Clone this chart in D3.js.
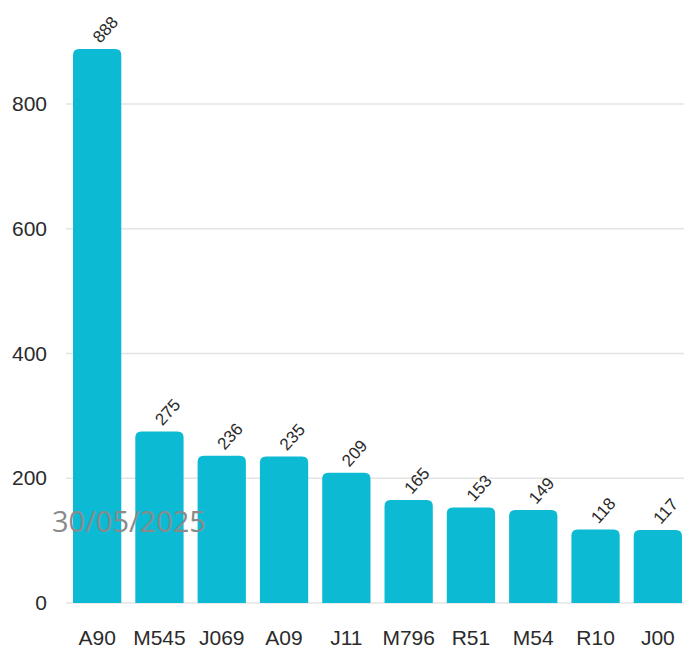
<!DOCTYPE html>
<html>
<head>
<meta charset="utf-8">
<script src="https://cdn.jsdelivr.net/npm/d3@7"></script>
<style>
  body { margin: 0; background: #fff; }
</style>
</head>
<body>
<svg id="chart"></svg>
<script>
var W = 684, H = 653;

var codes = ['A90', 'M545', 'J069', 'A09', 'J11', 'M796', 'R51', 'M54', 'R10', 'J00'];
var counts = [888, 275, 236, 235, 209, 165, 153, 149, 118, 117];
var yTicks = [0, 200, 400, 600, 800];

var color_bar = '#0dbad3',
    color_grid = '#e4e4e4',
    color_text = '#2b2b2b',
    font_main = '"Liberation Sans", Arial, sans-serif';

var svg = d3.select('#chart')
            .attr('width', W)
            .attr('height', H);

var x = d3.scaleBand()
          .domain(codes)
          .range([66, 689])
          .paddingInner(0.225)
          .paddingOuter(0.1125);

var y = d3.scaleLinear()
          .domain([0, 800])
          .range([603, 104]);

// gridlines
svg.append('g')
   .selectAll('line')
   .data(yTicks)
   .join('line')
   .attr('x1', 66)
   .attr('x2', W)
   .attr('y1', d => y(d))
   .attr('y2', d => y(d))
   .attr('stroke', color_grid)
   .attr('stroke-width', 1.5);

// y axis
var yAxis = svg.append('g')
               .attr('transform', 'translate(47,0)')
               .call(d3.axisLeft(y).tickValues(yTicks).tickSize(0).tickPadding(0));
yAxis.select('.domain').remove();
yAxis.selectAll('text')
     .attr('font-size', '21px')
     .attr('fill', color_text)
     .attr('font-family', font_main);

// x axis
var xAxis = svg.append('g')
               .attr('transform', 'translate(0,' + 630 + ')')
               .call(d3.axisBottom(x).tickSize(0).tickPadding(0));
xAxis.select('.domain').remove();
xAxis.selectAll('text')
     .attr('font-size', '21px')
     .attr('fill', color_text)
     .attr('font-family', font_main);

// bars, rounded at the top only
var r = 6;
function barPath(d, i){
    let x0 = x(codes[i]), w = x.bandwidth();
    let y0 = y(d), y1 = y(0);
    return 'M' + x0 + ',' + y1 +
           'V' + (y0 + r) +
           'Q' + x0 + ',' + y0 + ' ' + (x0 + r) + ',' + y0 +
           'H' + (x0 + w - r) +
           'Q' + (x0 + w) + ',' + y0 + ' ' + (x0 + w) + ',' + (y0 + r) +
           'V' + y1 + 'Z';
}

svg.append('g')
   .selectAll('path')
   .data(counts)
   .join('path')
   .attr('d', barPath)
   .attr('fill', color_bar);

// value labels, rotated
svg.append('g')
   .selectAll('text')
   .data(counts)
   .join('text')
   .attr('transform', (d, i) => 'translate(' + (x(codes[i]) + x.bandwidth()/2 + 3) + ',' + (y(d) - 5) + ') rotate(-48)')
   .attr('font-size', '17px')
   .attr('font-family', font_main)
   .attr('fill', color_text)
   .text(d => d);

// date stamp
svg.append('text')
   .attr('x', 52)
   .attr('y', 532)
   .attr('font-size', '29px')
   .attr('font-family', '"Open Sans", sans-serif')
   .attr('fill', '#8a8a8a')
   .text('30/05/2025');
</script>
</body>
</html>
